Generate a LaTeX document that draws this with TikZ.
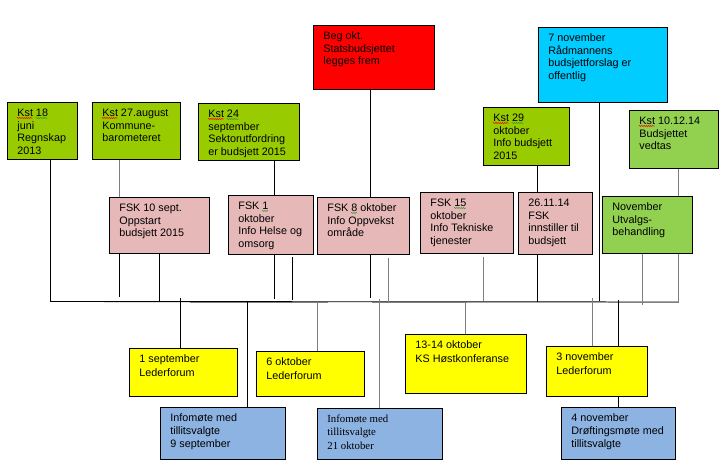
\documentclass[tikz,border=0pt]{standalone}
\usepackage{fontspec}
\setmainfont{Liberation Sans}
\newfontfamily\timesfont{Liberation Serif}
\usetikzlibrary{decorations.pathmorphing}
\definecolor{kstgreen}{HTML}{99CC00}
\definecolor{lgreen}{HTML}{92D050}
\definecolor{pinkbox}{HTML}{E6B9B8}
\definecolor{redbox}{HTML}{FF0000}
\definecolor{cyanbox}{HTML}{00CCFF}
\definecolor{yelbox}{HTML}{FFFF00}
\definecolor{bluebox}{HTML}{8DB3E2}
\definecolor{lgray}{HTML}{7F7F7F}
\definecolor{sqgreen}{HTML}{2E9E2E}
\newcommand\bt[3]{\parbox[c][#2pt][t]{#1pt}{\leftskip=10pt\rightskip=0pt plus 1fil\rule{0pt}{14pt}#3}}
\newcommand\squig[4]{\draw[#1, sq] ([shift={(#3pt,-16pt)}]#2.north west) -- ++(#4pt,0);}
\tikzset{
  box/.style={draw=black, line width=0.8pt, inner sep=0pt, anchor=north west,
    font=\fontsize{10.8}{12.7}\selectfont},
  ln/.style={line width=0.9pt, draw=black},
  gln/.style={line width=0.9pt, draw=lgray},
  sq/.style={line width=0.5pt, decorate, decoration={snake, amplitude=0.6pt, segment length=2.2pt}}
}
\begin{document}
\begin{tikzpicture}[x=1pt,y=-1pt]
\useasboundingbox (0,0) rectangle (721,467);
% top boxes
\node[box, fill=kstgreen] (kst18) at (7,102) {\bt{70}{57}{Kst 18\\juni\\Regnskap\\2013}};
\node[box, fill=kstgreen] (kst27) at (92,102) {\bt{88}{57}{Kst 27.august\\Kommune-\\barometeret}};
\node[box, fill=kstgreen] (kst24) at (198,103) {\bt{101}{57}{Kst 24\\september\\Sektorutfordring\\er budsjett 2015}};
\node[box, fill=pinkbox] (fsk10) at (109,197) {\bt{100}{56}{FSK 10 sept.\\Oppstart\\budsjett 2015}};
\node[box, fill=pinkbox] (fsk1) at (228,195) {\bt{85}{59}{FSK 1\\oktober\\Info Helse og\\omsorg}};
\node[box, fill=redbox] (beg) at (313,25) {\bt{121}{64}{Beg okt.\\Statsbudsjettet\\legges frem}};
\node[box, fill=pinkbox] (fsk8) at (317,197) {\bt{92}{57}{FSK 8 oktober\\Info Oppvekst\\område}};
\node[box, fill=pinkbox] (fsk15) at (420,192) {\bt{93}{61}{FSK 15\\oktober\\Info Tekniske\\tjenester}};
\node[box, fill=pinkbox] (fsk26) at (518,192) {\bt{74}{62}{26.11.14\\FSK\\innstiller til\\budsjett}};
\node[box, fill=kstgreen] (kst29) at (483,107) {\bt{86}{58}{Kst 29\\oktober\\Info budsjett\\2015}};
\node[box, fill=cyanbox] (nov7) at (538,27) {\bt{129}{75}{7 november\\Rådmannens\\budsjettforslag er\\offentlig}};
\node[box, fill=lgreen] (kst1012) at (629,110) {\bt{89}{58}{Kst 10.12.14\\Budsjettet\\vedtas}};
\node[box, fill=lgreen] (novutv) at (602,196) {\bt{90}{57}{November\\Utvalgs-\\behandling}};
% bottom boxes
\node[box, fill=yelbox, font=\fontsize{10.8}{14.5}\selectfont] (sep1) at (129,348) {\bt{108}{48}{1 september\\Lederforum}};
\node[box, fill=bluebox, font=\fontsize{10.8}{13.2}\selectfont] (info9) at (160,407) {\bt{125}{52}{Infomøte med\\tillitsvalgte\\9 september}};
\node[box, fill=yelbox, font=\fontsize{10.8}{14.5}\selectfont] (okt6) at (256,351) {\bt{108}{45}{6 oktober\\Lederforum}};
\node[box, fill=bluebox, font=\timesfont\fontsize{10.8}{13.3}\selectfont] (info21) at (317,408) {\bt{125}{51}{Infomøte med\\tillitsvalgte\\21 oktober}};
\node[box, fill=yelbox, font=\fontsize{10.8}{14}\selectfont] (okt13) at (405,334) {\bt{121}{59}{13-14 oktober\\KS Høstkonferanse}};
\node[box, fill=yelbox, font=\fontsize{10.8}{14}\selectfont] (nov3) at (546,346) {\bt{101}{50}{3 november\\Lederforum}};
\node[box, fill=bluebox, font=\fontsize{10.8}{13}\selectfont] (nov4) at (561,407) {\bt{114}{52}{4 november\\Drøftingsmøte med\\tillitsvalgte}};
% spell-check marks
\squig{red}{kst18}{10}{15.5}
\squig{sqgreen}{kst18}{28.6}{12}
\squig{red}{kst27}{10}{15.5}
\squig{red}{kst24}{10}{15.5}
\squig{sqgreen}{kst24}{28.6}{12}
\squig{red}{kst29}{10}{15.5}
\squig{sqgreen}{kst29}{28.6}{12}
\squig{red}{kst1012}{10}{15.5}
\squig{sqgreen}{fsk1}{34}{6}
\squig{sqgreen}{fsk8}{34}{6}
\squig{sqgreen}{fsk15}{34}{12}
% axis
\coordinate (axL) at (50.5,301.5);
\coordinate (axR) at (678,302);
\draw[ln] (kst18.south -| axL) -- (axL) -- (axR);
\coordinate (g1a) at (190,302); \coordinate (g1b) at (328,302);
\coordinate (g2a) at (372,302); \coordinate (g2b) at (467,302);
\coordinate (g3a) at (608,302);
\draw[gln] (g1a) -- (g1b);
\draw[gln] (g2a) -- (g2b);
\draw[gln] (g3a) -- (axR) -- (novutv.south -| axR);
\draw[gln] (kst1012.south -| axR) -- (novutv.north -| axR);
% verticals above axis
\coordinate (x119) at (119,297);
\draw[gln] (kst27.south -| x119) -- (fsk10.north -| x119);
\draw[ln] (fsk10.south -| x119) -- (x119);
\coordinate (x159) at (159,301.5);
\draw[ln] (fsk10.south -| x159) -- (x159);
\coordinate (x274) at (274,299);
\draw[ln] (kst24.south -| x274) -- (fsk1.north -| x274);
\draw[ln] (fsk1.south -| x274) -- (x274);
\coordinate (x292t) at (292,257); \coordinate (x292) at (292,300);
\draw[ln] (x292t) -- (x292);
\coordinate (x370) at (370.5,298);
\draw[ln] (beg.south -| x370) -- (fsk8.north -| x370);
\draw[ln] (fsk8.south -| x370) -- (x370);
\coordinate (x388t) at (388,258); \coordinate (x388) at (388,302);
\draw[gln] (x388t) -- (x388);
\coordinate (x483t) at (483,257); \coordinate (x483) at (483,301);
\draw[gln] (x483t) -- (x483);
\coordinate (x537) at (537,301.5);
\draw[ln] (kst29.south -| x537) -- (fsk26.north -| x537);
\draw[ln] (fsk26.south -| x537) -- (x537);
\coordinate (x599) at (599.5,301);
\draw[ln] (nov7.south -| x599) -- (x599);
\coordinate (x642) at (642,305);
\draw[gln] (novutv.south -| x642) -- (x642);
% verticals below axis
\coordinate (y180) at (180,298);
\draw[ln] (y180) -- (sep1.north -| y180);
\coordinate (y247) at (247,302);
\draw[ln] (y247) -- (info9.north -| y247);
\coordinate (y317) at (317.5,302);
\draw[gln] (y317) -- (okt6.north -| y317);
\coordinate (y379) at (379,299);
\draw[gln] (y379) -- (info21.north -| y379);
\coordinate (y465) at (465,302);
\draw[gln] (y465) -- (okt13.north -| y465);
\coordinate (y592) at (592,298);
\draw[gln] (y592) -- (nov3.north -| y592);
\coordinate (y618) at (618,300);
\draw[ln] (y618) -- (nov3.north -| y618);
\draw[ln] (nov3.south -| y618) -- (nov4.north -| y618);
\end{tikzpicture}
\end{document}
